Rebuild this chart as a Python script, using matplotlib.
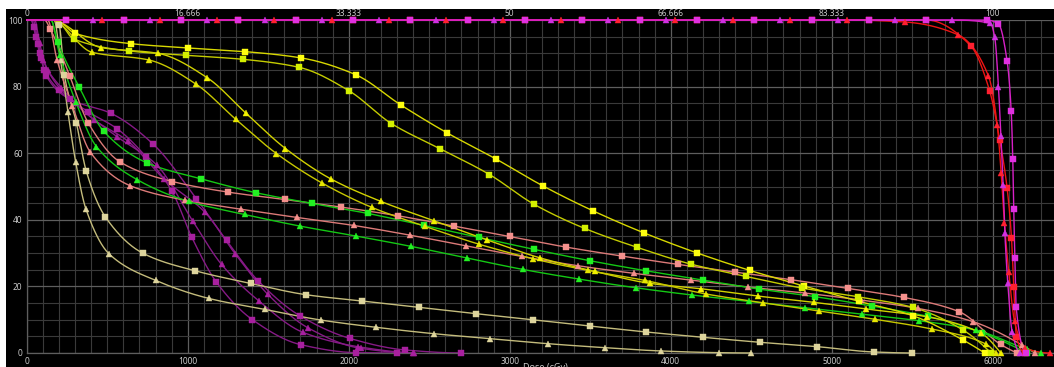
import numpy as np
import matplotlib
matplotlib.use("Agg")
import matplotlib.pyplot as plt
from matplotlib.patches import Rectangle
from matplotlib.ticker import MultipleLocator

plt.rcParams['font.family'] = ['Noto Sans', 'DejaVu Sans']

# ---------------- data (dose in cGy, volume in %) ----------------
ptv_sq_dose = [0, 247, 603, 959, 1315, 1671, 2027, 2383, 2739, 3095, 3451, 3807, 4163, 4519, 4875,
               5231, 5587, 5961, 6035, 6089, 6114, 6124, 6130, 6137, 6145, 6207]
ptv_sq_vol = [100, 100, 100, 100, 100, 100, 100, 100, 100, 100, 100, 100, 100, 100, 100,
              100, 100, 100, 98.8, 87.6, 72.8, 58.2, 43.1, 28.4, 13.7, 0.1]

ptv_tri_dose = [0, 409, 765, 1121, 1477, 1833, 2189, 2545, 2901, 3257, 3613, 3969, 4325, 4681, 5037,
                5393, 5749, 5985, 6012, 6035, 6050, 6064, 6075, 6093, 6120, 6170]
ptv_tri_vol = [100, 100, 100, 100, 100, 100, 100, 100, 100, 100, 100, 100, 100, 100, 100,
               100, 100, 99.0, 94.8, 80.0, 65.3, 50.6, 35.9, 21.0, 6.4, 0.0]

red_sq_dose = [0, 247, 603, 959, 1315, 1671, 2027, 2383, 2739, 3095, 3451, 3807, 4163, 4519, 4875,
               5231, 5587, 5862, 5981, 6043, 6089, 6116, 6130, 6147, 6200]
red_sq_vol = [100, 100, 100, 100, 100, 100, 100, 100, 100, 100, 100, 100, 100, 100, 100,
              100, 100, 92.3, 78.6, 64.0, 49.4, 34.6, 19.7, 4.9, 0.0]

red_tri_dose = [0, 469, 825, 1181, 1537, 1893, 2249, 2605, 2961, 3317, 3673, 4029, 4385, 4741, 5097,
                5453, 5782, 5973, 6027, 6052, 6072, 6099, 6135, 6200, 6357]
red_tri_vol = [100, 100, 100, 100, 100, 100, 100, 100, 100, 100, 100, 100, 100, 100, 100,
               99.4, 95.6, 83.2, 68.6, 54.0, 39.1, 24.4, 9.5, 1.5, 0.0]

yel_sq_a_dose = [0, 180, 300, 646, 1002, 1356, 1706, 2042, 2323, 2611, 2913, 3209, 3517, 3832, 4160,
                 4491, 4828, 5170, 5503, 5815, 5950]
yel_sq_a_vol = [100, 100, 96.0, 92.9, 91.6, 90.5, 88.6, 83.6, 74.5, 66.1, 58.3, 50.1, 42.7, 36.1, 30.1,
                24.8, 20.1, 15.5, 11.2, 3.9, 0.0]

yel_sq_b_dose = [0, 180, 292, 635, 988, 1342, 1691, 2000, 2265, 2569, 2874, 3153, 3466, 3793, 4124,
                 4468, 4815, 5161, 5503, 5815, 5990]
yel_sq_b_vol = [100, 100, 94.3, 90.7, 89.4, 88.2, 85.8, 78.8, 68.9, 61.3, 53.6, 44.6, 37.4, 31.7, 26.7,
                23.0, 19.5, 16.9, 13.7, 6.9, 0.0]

yel_tri_c_dose = [0, 150, 464, 814, 1120, 1362, 1607, 1888, 2201, 2530, 2857, 3186, 3528, 3873, 4188,
                  4540, 4892, 5215, 5589, 5928, 6050]
yel_tri_c_vol = [100, 100, 91.7, 90.0, 82.7, 72.0, 61.4, 52.3, 45.5, 39.7, 34.0, 28.6, 24.5, 20.9, 19.3,
                 17.1, 15.2, 13.2, 10.9, 5.9, 0.0]

yel_tri_d_dose = [0, 150, 406, 758, 1050, 1298, 1551, 1836, 2145, 2476, 2807, 3145, 3486, 3839, 4221,
                  4571, 4921, 5271, 5621, 5957, 6020]
yel_tri_d_vol = [100, 100, 90.3, 88.0, 80.8, 70.2, 59.9, 51.0, 43.7, 38.0, 32.7, 28.3, 24.8, 21.8, 17.7,
                 15.1, 12.6, 10.1, 7.2, 2.7, 0.0]

grn_sq_dose = [0, 150, 193, 327, 478, 747, 1083, 1427, 1772, 2120, 2466, 2811, 3153, 3499, 3845,
               4201, 4548, 4898, 5250, 5596, 5933, 6210]
grn_sq_vol = [100, 100, 93.3, 79.8, 66.6, 57.1, 52.3, 48.1, 44.9, 41.9, 38.3, 34.7, 31.1, 27.7, 24.7,
              21.9, 19.2, 16.9, 14.1, 11.0, 6.1, 0.0]

grn_tri_dose = [0, 150, 205, 304, 433, 688, 1006, 1354, 1698, 2048, 2389, 2737, 3081, 3430, 3781,
                4134, 4484, 4834, 5188, 5541, 5893, 6211, 6300]
grn_tri_vol = [100, 100, 89.5, 75.5, 62.0, 52.0, 45.5, 41.6, 38.1, 35.1, 32.0, 28.5, 25.1, 22.2, 19.6,
               17.4, 15.5, 13.6, 11.7, 9.7, 6.9, 1.2, 0.0]

sal_sq_dose = [0, 110, 147, 267, 381, 582, 905, 1253, 1602, 1955, 2306, 2654, 3002, 3350, 3698,
               4046, 4399, 4749, 5099, 5447, 5791, 6048, 6150]
sal_sq_vol = [100, 100, 97.2, 83.2, 69.2, 57.3, 51.5, 48.3, 46.1, 43.8, 41.2, 38.1, 35.0, 31.8, 29.1,
              26.6, 24.3, 22.0, 19.4, 16.7, 12.4, 2.6, 0.0]

sal_tri_dose = [0, 130, 188, 284, 395, 640, 981, 1329, 1679, 2031, 2379, 2727, 3075, 3424, 3774,
                4126, 4480, 4833, 5182, 5534, 5878, 6182, 6260]
sal_tri_vol = [100, 100, 88.1, 74.2, 60.3, 50.3, 45.9, 43.2, 40.7, 38.3, 35.4, 32.2, 29.0, 26.2, 23.9,
               21.9, 19.8, 18.0, 15.9, 13.4, 9.4, 2.4, 0.0]

kha_sq_dose = [0, 180, 202, 234, 308, 370, 488, 724, 1045, 1391, 1735, 2085, 2437, 2791, 3143,
               3497, 3849, 4203, 4557, 4911, 5263, 5500]
kha_sq_vol = [100, 100, 98.5, 83.5, 69.2, 54.6, 40.9, 29.9, 24.7, 20.9, 17.5, 15.6, 13.7, 11.8, 10.0,
              8.1, 6.3, 4.7, 3.2, 1.9, 0.3, 0.0]

kha_tri_dose = [0, 170, 210, 256, 304, 368, 513, 801, 1130, 1478, 1826, 2172, 2528, 2880, 3236,
                3590, 3942, 4298, 4500]
kha_tri_vol = [100, 100, 88.0, 72.3, 57.4, 43.2, 29.7, 21.8, 16.4, 13.1, 9.9, 7.7, 5.8, 4.3, 2.8,
               1.6, 0.6, 0.1, 0.0]

pur_sq_a_dose = [0, 25, 45, 72, 91, 122, 269, 522, 786, 1054, 1241, 1439, 1696, 2006, 2352, 2700]
pur_sq_a_vol = [100, 100, 97.8, 92.8, 88.5, 83.2, 76.2, 72.0, 62.7, 46.3, 33.8, 21.6, 11.2, 4.4, 0.9, 0.0]

pur_sq_b_dose = [0, 30, 55, 80, 110, 200, 380, 563, 740, 902, 1026, 1178, 1402, 1702, 2048, 2300]
pur_sq_b_vol = [100, 100, 95.0, 90.0, 85.0, 79.0, 72.5, 67.3, 59.0, 48.6, 34.7, 21.3, 10.0, 2.5, 0.1, 0.0]

pur_tri_c_dose = [0, 40, 65, 100, 215, 420, 627, 854, 1106, 1296, 1498, 1749, 2075, 2406]
pur_tri_c_vol = [100, 100, 95.0, 88.0, 79.7, 70.0, 63.7, 52.2, 42.3, 29.7, 17.6, 7.5, 1.4, 0.0]

pur_tri_d_dose = [0, 50, 80, 130, 300, 560, 807, 1033, 1210, 1443, 1716, 2057, 2400]
pur_tri_d_vol = [100, 100, 93.0, 85.0, 75.0, 65.0, 56.5, 39.5, 26.6, 15.6, 6.2, 1.9, 0.0]

x_ticks_pct = [0, 16.666, 33.333, 50, 66.666, 83.333, 100]
x_tick_pct_labels = ["0", "16.666", "33.333", "50", "66.666", "83.333", "100"]

# ---------------- styles ----------------
# (dose, vol, line colour, marker colour, marker, first marked index, zorder)
series = [
    (pur_sq_a_dose, pur_sq_a_vol, '#861a86', '#a8209f', 's', 2, 2),
    (pur_sq_b_dose, pur_sq_b_vol, '#861a86', '#a8209f', 's', 2, 2),
    (pur_tri_c_dose, pur_tri_c_vol, '#861a86', '#a8209f', '^', 2, 2),
    (pur_tri_d_dose, pur_tri_d_vol, '#861a86', '#a8209f', '^', 2, 2),
    (kha_sq_dose, kha_sq_vol, '#c4bc7c', '#ddd49c', 's', 2, 3),
    (kha_tri_dose, kha_tri_vol, '#c4bc7c', '#ddd49c', '^', 2, 3),
    (sal_sq_dose, sal_sq_vol, '#dc7a78', '#f4908c', 's', 2, 4),
    (sal_tri_dose, sal_tri_vol, '#dc7a78', '#f4908c', '^', 2, 4),
    (grn_sq_dose, grn_sq_vol, '#14c814', '#22f022', 's', 2, 5),
    (grn_tri_dose, grn_tri_vol, '#14c814', '#22f022', '^', 2, 5),
    (yel_tri_c_dose, yel_tri_c_vol, '#d2d200', '#f0f000', '^', 2, 6),
    (yel_tri_d_dose, yel_tri_d_vol, '#c8c800', '#e6e600', '^', 2, 6),
    (yel_sq_a_dose, yel_sq_a_vol, '#d8d800', '#ffff10', 's', 2, 6),
    (yel_sq_b_dose, yel_sq_b_vol, '#c4cc00', '#d4f000', 's', 2, 6),
    (red_sq_dose, red_sq_vol, '#ee1414', '#ff2030', 's', 1, 7),
    (red_tri_dose, red_tri_vol, '#ee1414', '#ff2030', '^', 1, 7),
    (ptv_sq_dose, ptv_sq_vol, '#d820c8', '#e030e0', 's', 1, 8),
    (ptv_tri_dose, ptv_tri_vol, '#d820c8', '#d030e0', '^', 1, 8),
]


def pchip_curve(x, y, per_seg=30):
    x = np.asarray(x, float)
    y = np.asarray(y, float)
    h = np.diff(x)
    d = np.diff(y) / h
    n = len(x)
    m = np.zeros(n)
    for k in range(1, n - 1):
        if d[k - 1] * d[k] > 0:
            w1 = 2 * h[k] + h[k - 1]
            w2 = h[k] + 2 * h[k - 1]
            m[k] = (w1 + w2) / (w1 / d[k - 1] + w2 / d[k])
    if n > 2:
        m0 = ((2 * h[0] + h[1]) * d[0] - h[0] * d[1]) / (h[0] + h[1])
        if np.sign(m0) != np.sign(d[0]):
            m0 = 0.0
        m[0] = m0
        mn = ((2 * h[-1] + h[-2]) * d[-1] - h[-1] * d[-2]) / (h[-1] + h[-2])
        if np.sign(mn) != np.sign(d[-1]):
            mn = 0.0
        m[-1] = mn
    xs_all, ys_all = [], []
    for k in range(n - 1):
        t = np.linspace(0, 1, per_seg, endpoint=(k == n - 2))
        h00 = 2 * t**3 - 3 * t**2 + 1
        h10 = t**3 - 2 * t**2 + t
        h01 = -2 * t**3 + 3 * t**2
        h11 = t**3 - t**2
        xs_all.append(x[k] + t * h[k])
        ys_all.append(h00 * y[k] + h10 * h[k] * m[k] + h01 * y[k + 1] + h11 * h[k] * m[k + 1])
    return np.concatenate(xs_all), np.clip(np.concatenate(ys_all), 0, 100)


fig = plt.figure(figsize=(10.54, 3.67), dpi=100, facecolor='black')
L = 26.7 / 1054
ax = fig.add_axes([L, 14 / 367, 1 - L, 333 / 367])
ax.set_facecolor('black')
ax.set_xlim(0, 6380)
ax.set_ylim(0, 100)
ax.xaxis.set_major_locator(MultipleLocator(1000))
ax.xaxis.set_minor_locator(MultipleLocator(100))
ax.yaxis.set_major_locator(MultipleLocator(20))
ax.yaxis.set_minor_locator(MultipleLocator(5))
ax.grid(which='minor', color='#3a3a3a', lw=0.8)
ax.grid(which='major', color='#5e5e5e', lw=0.9)
ax.set_axisbelow(True)
ax.tick_params(which='both', length=0, colors='#c8c8c8', labelsize=6)
ax.tick_params(axis='x', pad=3.2)
ax.tick_params(axis='y', pad=3.0)
for side in ('top', 'right'):
    ax.spines[side].set_visible(False)
for side in ('left', 'bottom'):
    ax.spines[side].set_color('#5e5e5e')
    ax.spines[side].set_linewidth(0.9)

for dose, vol, lc, mc, mk, skip, z in series:
    xs, ys = pchip_curve(dose, vol)
    ax.plot(xs, ys, color=lc, lw=1.0, zorder=z, clip_on=False, solid_joinstyle='round')
for dose, vol, lc, mc, mk, skip, z in series:
    ms = 3.8 if mk == 's' else 4.2
    ax.plot(dose[skip:], vol[skip:], ls='none', marker=mk, ms=ms, color=mc, mec=mc,
            mew=0.3, zorder=z + 10, clip_on=False)

sec = ax.secondary_xaxis('top', functions=(lambda d: d / 60.0, lambda p: p * 60.0))
sec.set_xticks(x_ticks_pct, labels=x_tick_pct_labels)
sec.tick_params(length=0, colors='#c8c8c8', labelsize=6, pad=1.2)
sec.spines['top'].set_visible(False)
sec.set_xlabel('Dose (%)', color='#c8c8c8', fontsize=6.5, labelpad=1)

fig.text(545 / 1054, 4 / 367, 'Dose (cGy)', ha='center', va='top', color='#c8c8c8', fontsize=6.5)

fig.patches.append(Rectangle((0, 1 - 9 / 367), 1, 9 / 367, transform=fig.transFigure,
                             facecolor='white', edgecolor='none', zorder=50))
fig.patches.append(Rectangle((0, 0), 6 / 1054, 1, transform=fig.transFigure,
                             facecolor='white', edgecolor='none', zorder=50))

fig.savefig('out.png', dpi=100, facecolor='black')
